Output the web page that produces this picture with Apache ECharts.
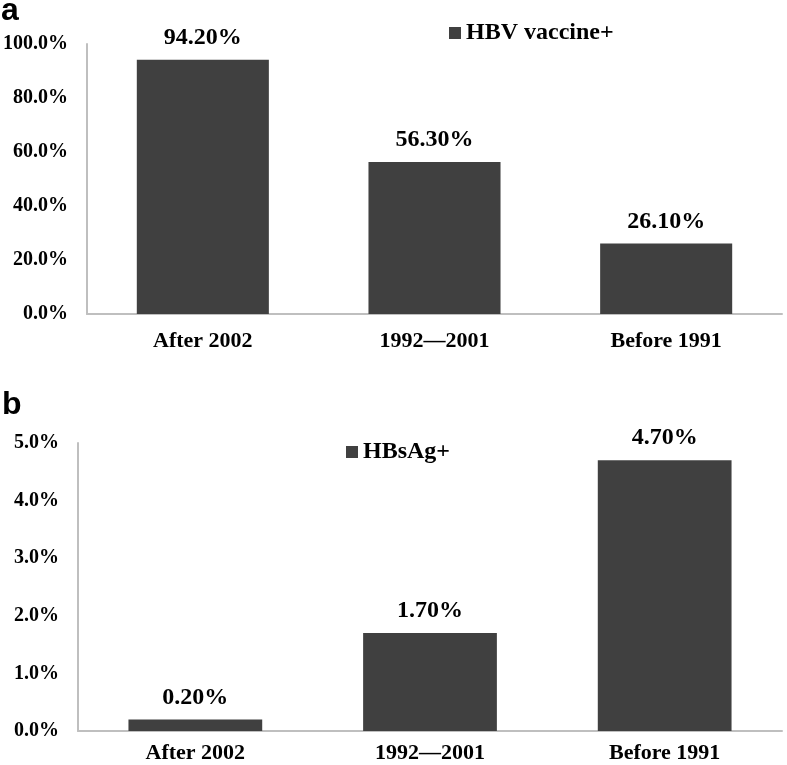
<!DOCTYPE html>
<html>
<head>
<meta charset="utf-8">
<script src="https://cdn.jsdelivr.net/npm/echarts@6/dist/echarts.min.js"></script>
<style>
html,body{margin:0;padding:0;background:#fff;}
#chart{width:787px;height:765px;}
</style>
</head>
<body>
<div id="chart"></div>
<script>
const categories = ['After 2002', '1992\u20142001', 'Before 1991'];
const vaccineValues = [94.2, 56.3, 26.1];
const hbsagValues = [0.2, 1.7, 4.7];
const vaccineName = 'HBV vaccine+';
const hbsagName = 'HBsAg+';

const serif = '"Liberation Serif", "Times New Roman", serif';
const barColor = '#404040';
const axisColor = '#bfbfbf';

const chart = echarts.init(document.getElementById('chart'));

function xAx(gi, margin) {
  return {
    type: 'category', gridIndex: gi, data: categories,
    axisTick: { show: false },
    axisLine: { lineStyle: { color: axisColor, width: 2 } },
    axisLabel: { color: '#000', fontFamily: serif, fontWeight: 'bold', fontSize: 22, margin: margin }
  };
}
function yAx(gi, max, interval) {
  return {
    type: 'value', gridIndex: gi, min: 0, max: max, interval: interval,
    splitLine: { show: false },
    axisTick: { show: false },
    axisLine: { show: true, lineStyle: { color: axisColor, width: 2 } },
    axisLabel: { color: '#000', fontFamily: serif, fontWeight: 'bold', fontSize: 20, margin: 19,
      formatter: v => v.toFixed(1) + '%' }
  };
}
function ser(name, data, ai) {
  return {
    type: 'bar', name: name, data: data, xAxisIndex: ai, yAxisIndex: ai,
    barWidth: '57%',
    itemStyle: { color: barColor },
    label: { show: true, position: 'top', distance: 10, color: '#000', fontFamily: serif,
      fontWeight: 'bold', fontSize: 24, formatter: p => p.value.toFixed(2) + '%' }
  };
}

chart.setOption({
  animation: false,
  backgroundColor: '#fff',
  grid: [
    { left: 84, right: 5, top: 44, height: 270 },
    { left: 78, right: 5, top: 443, height: 288 }
  ],
  xAxis: [xAx(0, 16), xAx(1, 11)],
  yAxis: [yAx(0, 100, 20), yAx(1, 5, 1)],
  legend: [
    { data: [vaccineName], left: 449, top: 21, padding: 0, icon: 'rect', itemWidth: 12, itemHeight: 12,
      textStyle: { color: '#000', fontFamily: serif, fontWeight: 'bold', fontSize: 24 } },
    { data: [hbsagName], left: 346, top: 440, padding: 0, icon: 'rect', itemWidth: 12, itemHeight: 12,
      textStyle: { color: '#000', fontFamily: serif, fontWeight: 'bold', fontSize: 24 } }
  ],
  graphic: [
    { type: 'text', left: 1, top: -5, style: { text: 'a', fontFamily: '"Liberation Sans", Arial, sans-serif', fontWeight: 'bold', fontSize: 32, fill: '#000' } },
    { type: 'text', left: 2, top: 389, style: { text: 'b', fontFamily: '"Liberation Sans", Arial, sans-serif', fontWeight: 'bold', fontSize: 32, fill: '#000' } }
  ],
  series: [ser(vaccineName, vaccineValues, 0), ser(hbsagName, hbsagValues, 1)]
});
</script>
</body>
</html>
